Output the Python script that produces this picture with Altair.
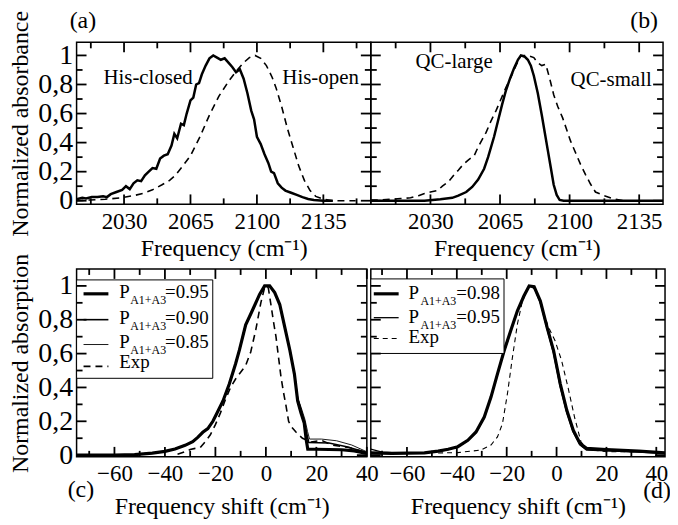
import altair as alt
import pandas as pd

FONT = "Liberation Serif"

# ---------------- data ----------------
a_closed_x = [2005, 2008, 2010, 2013, 2016, 2019, 2021, 2023, 2026, 2029, 2031, 2033, 2035, 2037, 2039,
              2041, 2043, 2045, 2047, 2049, 2051, 2053, 2055, 2056.5, 2058, 2060, 2061.5, 2063, 2065,
              2066.5, 2068, 2069.5, 2071, 2073, 2075, 2077, 2079, 2081, 2083, 2085, 2087, 2089, 2091,
              2093, 2095, 2097, 2098.5, 2100, 2102, 2104, 2106, 2107.5, 2109, 2111, 2113, 2115, 2118,
              2121, 2124, 2127, 2130, 2135, 2140]
a_closed_y = [0.01, 0.02, 0.015, 0.025, 0.025, 0.03, 0.025, 0.045, 0.06, 0.075, 0.10, 0.08, 0.12, 0.14, 0.135,
              0.175, 0.2, 0.225, 0.22, 0.29, 0.31, 0.32, 0.38, 0.46, 0.43, 0.53, 0.52, 0.6, 0.69,
              0.71, 0.8, 0.81, 0.87, 0.93, 0.98, 1.0, 0.985, 0.97, 0.98, 0.95, 0.92, 0.885, 0.905,
              0.84, 0.74, 0.62, 0.56, 0.44, 0.39, 0.32, 0.26, 0.2, 0.19, 0.12, 0.09, 0.07, 0.055,
              0.04, 0.025, 0.012, 0.005, 0.0, 0.0]
a_open_x = [2005, 2012, 2020, 2028, 2035, 2040, 2045, 2050, 2054, 2057, 2061, 2065, 2070, 2075, 2080,
            2085, 2089, 2093, 2096, 2099, 2102, 2105, 2108, 2110, 2113, 2116, 2119, 2122, 2125, 2128,
            2131, 2135, 2140, 2152]
a_open_y = [0.0, 0.005, 0.01, 0.02, 0.035, 0.05, 0.075, 0.11, 0.14, 0.175, 0.24, 0.31, 0.44, 0.59, 0.72,
            0.82, 0.89, 0.95, 0.985, 1.0, 0.98, 0.93, 0.85, 0.78, 0.65, 0.5, 0.37, 0.24, 0.14, 0.07,
            0.03, 0.01, 0.0, 0.0]

b_large_x = [2000, 2027, 2035, 2041, 2044, 2048, 2051, 2054, 2057, 2059, 2062, 2064, 2066, 2068, 2070,
             2072, 2074, 2075.5, 2077.5, 2079, 2080.5, 2082, 2084, 2086, 2087.5, 2089, 2090.5, 2092,
             2093.5, 2095, 2097, 2147]
b_large_y = [0.0, 0.0, 0.01, 0.02, 0.035, 0.06, 0.095, 0.145, 0.22, 0.3, 0.44, 0.55, 0.66, 0.76, 0.84,
             0.91, 0.97, 1.0, 0.99, 0.97, 0.93, 0.86, 0.74, 0.59, 0.47, 0.35, 0.23, 0.11,
             0.04, 0.005, 0.0, 0.0]
b_small_x = [2000, 2005, 2010, 2015, 2020, 2024, 2027, 2030, 2033.5, 2036, 2039, 2042, 2044, 2046.5, 2049,
             2052, 2054, 2056, 2058, 2060.5, 2063, 2065.5, 2068, 2070.5, 2073, 2075.5, 2079, 2082, 2084,
             2086, 2088, 2090, 2092, 2094, 2096.5, 2098.5, 2100.5, 2103, 2105.5, 2108, 2110.5, 2113,
             2117, 2122, 2127, 2147]
b_small_y = [0.005, 0.005, 0.01, 0.015, 0.02, 0.035, 0.05, 0.06, 0.07, 0.1, 0.13, 0.18, 0.21, 0.25, 0.28,
             0.31, 0.37, 0.42, 0.47, 0.55, 0.62, 0.70, 0.78, 0.85, 0.93, 1.0, 1.0, 0.985, 0.95,
             0.93, 0.94, 0.84, 0.73, 0.65, 0.57, 0.49, 0.41, 0.33, 0.25, 0.18, 0.115, 0.06,
             0.037, 0.014, 0.0, 0.0]

c_95_x = [-75, -60, -52, -45, -40, -36, -32, -29, -27, -25, -23, -21, -19.5, -17, -14.5, -12, -10.5, -8,
          -5.5, -2.5, -0.5, 1.5, 3.5, 5.5, 7.5, 9.5, 11.3, 12.6, 13.9, 15.2, 16.0, 16.6, 20, 30, 35, 40]
c_95_y = [0.0, 0.0, 0.003, 0.012, 0.022, 0.036, 0.058, 0.08, 0.105, 0.135, 0.157, 0.2, 0.245, 0.32, 0.42,
          0.54, 0.62, 0.77, 0.85, 0.95, 1.0, 1.0, 0.96, 0.89, 0.755, 0.62, 0.48, 0.32, 0.25, 0.19,
          0.09, 0.035, 0.035, 0.032, 0.025, 0.01]
c_90_x = [-75, -60, -52, -45, -40, -36, -32, -29, -27, -25, -23, -21, -19.5, -17, -14.5, -12, -10.5, -8,
          -5.5, -2.5, -0.5, 1.5, 3.5, 5.5, 7.5, 9.5, 11.3, 12.6, 13.9, 15.2, 16.3, 17.0, 25, 32, 40]
c_90_y = [0.0, 0.0, 0.003, 0.012, 0.022, 0.036, 0.058, 0.08, 0.105, 0.135, 0.157, 0.2, 0.245, 0.32, 0.42,
          0.54, 0.62, 0.77, 0.85, 0.95, 1.0, 1.0, 0.96, 0.89, 0.755, 0.62, 0.48, 0.33, 0.27, 0.2,
          0.12, 0.075, 0.072, 0.05, 0.015]
c_85_x = [-75, -60, -52, -45, -40, -36, -32, -29, -27, -25, -23, -21, -19.5, -17, -14.5, -12, -10.5, -8,
          -5.5, -2.5, -0.5, 1.5, 3.5, 5.5, 7.5, 9.5, 11.3, 12.6, 14.0, 15.5, 16.5, 17.3, 22, 28, 34, 40]
c_85_y = [0.0, 0.0, 0.003, 0.012, 0.022, 0.036, 0.058, 0.08, 0.105, 0.135, 0.157, 0.2, 0.245, 0.32, 0.42,
          0.54, 0.62, 0.77, 0.85, 0.95, 1.0, 1.0, 0.96, 0.89, 0.755, 0.62, 0.48, 0.34, 0.28, 0.21,
          0.14, 0.095, 0.095, 0.085, 0.06, 0.02]
c_exp_x = [-35, -32, -30, -28, -26, -24, -22, -20, -18, -16, -14, -12, -10, -8, -6, -4, -2, -0.5, 0.5,
           1, 2, 3, 4, 5, 6, 7, 8, 9, 10, 12, 14.5, 18, 22, 26, 33, 40]
c_exp_y = [0.005, 0.02, 0.033, 0.04, 0.045, 0.08, 0.12, 0.18, 0.25, 0.33, 0.4, 0.45, 0.49, 0.53, 0.61,
           0.74, 0.9, 0.99, 1.0, 0.985, 0.89, 0.79, 0.7, 0.58, 0.46, 0.37, 0.29, 0.2, 0.17, 0.135,
           0.1, 0.078, 0.088, 0.06, 0.045, 0.015]

d_98_x = [-74.5, -66, -53, -47.5, -43.5, -39.6, -35.6, -32.3, -29, -26.3, -23.7, -21, -18.4, -15.7,
          -13.1, -11, -9, -6.5, -3.8, -1.2, 1.5, 4.1, 6.7, 9.4, 12, 20, 33, 43.5]
d_98_y = [0.013, 0.01, 0.013, 0.024, 0.035, 0.05, 0.088, 0.137, 0.225, 0.343, 0.48, 0.618, 0.735, 0.853,
          0.94, 1.0, 0.995, 0.91, 0.755, 0.618, 0.42, 0.265, 0.147, 0.069, 0.04, 0.033, 0.024, 0.013]
d_95_x = [-74.5, -70, -60, -53, -47.5, -43.5, -39.6, -35.6, -32.3, -29, -26.3, -23.7, -21, -18.4, -15.7,
          -13.1, -11, -9, -6.5, -3.8, -1.2, 1.5, 4.1, 6.7, 9.4, 12, 20, 33, 43.5]
d_95_y = [0.035, 0.018, 0.01, 0.012, 0.022, 0.033, 0.048, 0.085, 0.133, 0.22, 0.34, 0.475, 0.612, 0.73, 0.85,
          0.94, 1.0, 0.99, 0.9, 0.745, 0.6, 0.4, 0.25, 0.135, 0.06, 0.03, 0.025, 0.018, 0.01]
d_exp_x = [-47.5, -39.6, -30.3, -26.3, -23.7, -21.7, -19.7, -17.7, -15.7, -13.7, -11.1, -8.5, -5.9, -3.2,
           -0.6, 2, 4.6, 7.2, 9.8, 12.5, 20, 33, 43.5]
d_exp_y = [0.013, 0.015, 0.03, 0.06, 0.108, 0.186, 0.363, 0.578, 0.775, 0.91, 1.0, 0.98, 0.87, 0.755,
           0.676, 0.56, 0.40, 0.225, 0.078, 0.033, 0.02, 0.02, 0.013]

freq_major = [2030, 2065, 2100, 2135]
freq_minor = [2012.5, 2047.5, 2082.5, 2117.5, 2152.5]
shift_major = [-60, -40, -20, 0, 20, 40]
shift_minor = [-70, -50, -30, -10, 10, 30]
y_major = [0, 0.2, 0.4, 0.6, 0.8, 1.0]
y_minor = [0.1, 0.3, 0.5, 0.7, 0.9]

ONE = pd.DataFrame({"k": [0]})
YLAB = "replace(format(datum.value, '.1~f'), '.', ',')"
MAJ_LEN, MIN_LEN = 10, 6


def xy(xs, ys):
    return pd.DataFrame({"x": xs, "y": ys})


def blank(orient):
    return alt.Axis(labels=False, ticks=False, domain=False, grid=False, title=None, orient=orient)


def ax(orient, values, labels=False, title=None, label_size=23, pad=0, tpad=2, expr=None, fmt=None):
    kw = dict(orient=orient, values=values, ticks=False, tickSize=0, grid=False,
              domain=False, labels=labels, title=title, labelFlush=False, labelOverlap=False,
              labelFont=FONT, titleFont=FONT, labelColor="black", titleColor="black",
              labelFontSize=label_size, titleFontSize=24, titleFontWeight="normal",
              labelPadding=pad, titlePadding=tpad)
    if expr:
        kw["labelExpr"] = expr
    if fmt:
        kw["format"] = fmt
    return alt.Axis(**kw)


def line(df, xs, ys, xax, yax, w, dash=None):
    kw = dict(color="black", strokeWidth=w, clip=True)
    if dash:
        kw["strokeDash"] = dash
    return alt.Chart(df).mark_line(**kw).encode(
        x=alt.X("x:Q", scale=xs, axis=xax),
        y=alt.Y("y:Q", scale=ys, axis=yax),
        order=alt.Order("x:Q"),
    )


def tick_lines(xmaj, xmin, xdom, ydom, W, H, xs, ys):
    """Inward tick marks on all four sides: short two-point line segments through the scales."""
    px_x = W / (xdom[1] - xdom[0])
    px_y = H / (ydom[1] - ydom[0])
    rows = []
    k = 0
    for vals, ln in ((xmaj, MAJ_LEN), (xmin, MIN_LEN)):
        d = ln / px_y
        for v in vals:
            for y0, y1 in ((ydom[0], ydom[0] + d), (ydom[1], ydom[1] - d)):
                rows += [{"x": v, "y": y0, "id": k, "o": 0}, {"x": v, "y": y1, "id": k, "o": 1}]
                k += 1
    for vals, ln in ((y_major, MAJ_LEN), (y_minor, MIN_LEN)):
        d = ln / px_x
        for v in vals:
            for x0, x1 in ((xdom[0], xdom[0] + d), (xdom[1], xdom[1] - d)):
                rows += [{"x": x0, "y": v, "id": k, "o": 0}, {"x": x1, "y": v, "id": k, "o": 1}]
                k += 1
    return alt.Chart(pd.DataFrame(rows)).mark_line(color="black", strokeWidth=1.8).encode(
        x=alt.X("x:Q", scale=xs, axis=blank("bottom")),
        y=alt.Y("y:Q", scale=ys, axis=blank("left")),
        detail="id:N",
        order="o:Q",
    )


def txt(s, x, y, size, align="left"):
    return alt.Chart(ONE).mark_text(text=s, fontSize=size, font=FONT, align=align,
                                    baseline="alphabetic", color="black").encode(
        x=alt.value(x), y=alt.value(y))


def sample(x1, x2, y, w, dash=None):
    kw = dict(color="black", strokeWidth=w)
    if dash:
        kw["strokeDash"] = dash
    return alt.Chart(ONE).mark_rule(**kw).encode(x=alt.value(x1), x2=alt.value(x2), y=alt.value(y))


def box(x1, x2, y1, y2):
    return alt.Chart(ONE).mark_rect(fill="white", stroke="black", strokeWidth=1).encode(
        x=alt.value(x1), x2=alt.value(x2), y=alt.value(y1), y2=alt.value(y2))


def panel(series, xdom, ydom, xmaj, xmin, xtitle, xpad, xtpad, ytitle, extra, W, H):
    xs = alt.Scale(domain=xdom, nice=False, zero=False)
    ys = alt.Scale(domain=ydom, nice=False, zero=False)
    ylabels = ytitle is not None
    x_bot = ax("bottom", xmaj, labels=True, title=xtitle, pad=xpad, tpad=xtpad, fmt="d")
    y_left = (ax("left", y_major, labels=True, title=ytitle, label_size=28, pad=4, tpad=5, expr=YLAB)
              if ylabels else blank("left"))
    df0, w0, d0 = series[0]
    layers = [line(df0, xs, ys, x_bot, y_left, w0, d0)]
    for df, w, d in series[1:]:
        layers.append(line(df, xs, ys, blank("bottom"), blank("left"), w, d))
    layers += extra
    layers.append(tick_lines(xmaj, xmin, xdom, ydom, W, H, xs, ys))
    return alt.layer(*layers).resolve_axis(x="independent", y="independent").properties(width=W, height=H)


FREQ_T = "Frequency (cm\u207b\u00b9)"
SHIFT_T = "Frequency shift (cm\u207b\u00b9)"

pa = panel([(xy(a_closed_x, a_closed_y), 2.5, None), (xy(a_open_x, a_open_y), 1.6, [7, 5])],
           [2005, 2160], [-0.025, 1.09], freq_major, freq_minor, FREQ_T, 6, 3, "Normalized absorbance",
           [txt("His-closed", 27, 42, 21), txt("His-open", 207, 42, 21), txt("(a)", -7, -14, 24)],
           296, 163)

pb = panel([(xy(b_large_x, b_large_y), 2.5, None), (xy(b_small_x, b_small_y), 1.6, [7, 5])],
           [2000, 2147], [-0.025, 1.09], freq_major, [v for v in freq_minor if v < 2147], FREQ_T, 6, 3,
           None,
           [txt("QC-large", 45, 26, 21), txt("QC-small", 201, 44, 21), txt("(b)", 261, -14, 24)],
           294, 163)

c_leg = [box(0, 137, 11, 110)]
for lab, w, base in [("=0.95", 3.2, 29), ("=0.90", 1.6, 55), ("=0.85", 0.9, 80)]:
    c_leg += [sample(7, 32, base - 4, w), txt("P", 43, base, 19), txt("A1+A3", 54, base + 6, 12),
              txt(lab, 89, base, 19)]
c_leg += [sample(7, 32, 98, 1.6, dash=[7, 5]), txt("Exp", 43, 100, 19), txt("(c)", -9, 229, 24)]
pc = panel([(xy(c_95_x, c_95_y), 3.2, None), (xy(c_90_x, c_90_y), 1.6, None),
            (xy(c_85_x, c_85_y), 0.9, None), (xy(c_exp_x, c_exp_y), 1.6, [7, 5])],
           [-75, 40], [-0.01, 1.1], shift_major, shift_minor, SHIFT_T, 6, 9, "Normalized absorption",
           c_leg, 292, 189)

d_leg = [box(0, 134, 10, 85)]
for lab, w, base in [("=0.98", 3.2, 30), ("=0.95", 1.3, 54)]:
    d_leg += [sample(3, 28, base - 5, w), txt("P", 38, base, 19), txt("A1+A3", 50, base + 6, 12),
              txt(lab, 86, base, 19)]
d_leg += [sample(3, 28, 70, 1.1, dash=[5, 4]), txt("Exp", 38, 74, 19), txt("(d)", 274, 230, 24)]
pd_ = panel([(xy(d_98_x, d_98_y), 3.2, None), (xy(d_95_x, d_95_y), 1.3, None),
             (xy(d_exp_x, d_exp_y), 1.1, [5, 4])],
            [-74.5, 43.5], [-0.01, 1.1], shift_major, shift_minor, SHIFT_T, 6, 9, None, d_leg, 296, 189)

chart = alt.concat(pa, pb, pc, pd_, columns=2, spacing={"row": 65, "column": 0},
                   bounds="flush").properties(
    padding={"left": 0, "top": -1, "right": -2, "bottom": 0}
).configure(font=FONT).configure_view(stroke="black", strokeWidth=1.5)

chart.save("out.html", embed_options={"renderer": "svg", "actions": False})
